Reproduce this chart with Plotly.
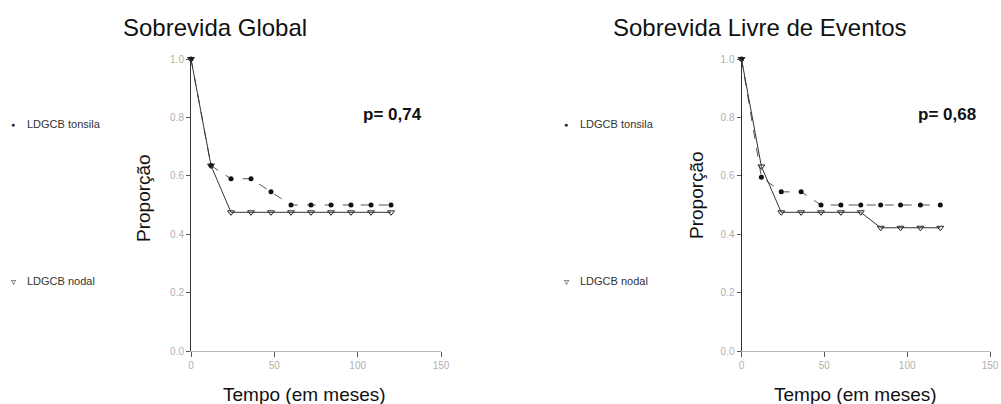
import plotly.graph_objects as go

months = [0, 12, 24, 36, 48, 60, 72, 84, 96, 108, 120]
os_tonsila = [1.0, 0.635, 0.59, 0.59, 0.545, 0.50, 0.50, 0.50, 0.50, 0.50, 0.50]
os_nodal = [1.0, 0.635, 0.475, 0.475, 0.475, 0.475, 0.475, 0.475, 0.475, 0.475, 0.475]
efs_tonsila = [1.0, 0.595, 0.545, 0.545, 0.50, 0.50, 0.50, 0.50, 0.50, 0.50, 0.50]
efs_nodal = [1.0, 0.632, 0.475, 0.475, 0.475, 0.475, 0.475, 0.422, 0.422, 0.422, 0.422]

titles = ["Sobrevida Global", "Sobrevida Livre de Eventos"]
p_values = ["p= 0,74", "p= 0,68"]
series_names = ["LDGCB tonsila", "LDGCB nodal"]
x_ticks = [0, 50, 100, 150]
y_ticks = [0.0, 0.2, 0.4, 0.6, 0.8, 1.0]

W, H = 1001, 404
FONT = "Liberation Sans, Arial, sans-serif"

def px(x):
    return x / W

def py(y):
    return 1 - y / H

fig = go.Figure()

panels = [
    dict(tons=os_tonsila, nod=os_nodal, xa="x", ya="y"),
    dict(tons=efs_tonsila, nod=efs_nodal, xa="x2", ya="y2"),
]

for p in panels:
    fig.add_trace(go.Scatter(
        x=months, y=p["tons"], mode="lines+markers", name=series_names[0],
        xaxis=p["xa"], yaxis=p["ya"], showlegend=False, cliponaxis=False,
        line=dict(color="#555555", width=1, dash="dash"),
        marker=dict(symbol="circle", size=5, color="#111111"),
    ))
    fig.add_trace(go.Scatter(
        x=months, y=p["nod"], mode="lines+markers", name=series_names[1],
        xaxis=p["xa"], yaxis=p["ya"], showlegend=False, cliponaxis=False,
        line=dict(color="#333333", width=1),
        marker=dict(symbol="triangle-down-open", size=6, color="#222222",
                    line=dict(width=1)),
    ))

y_dom = [py(351), py(59)]
axis_common_x = dict(
    range=[0, 150], tickvals=x_ticks, ticktext=[str(v) for v in x_ticks],
    showgrid=False, zeroline=False, showline=True, linecolor="#b8b8b8",
    linewidth=1, ticks="outside", ticklen=5, tickcolor="#555555",
    automargin=False,
    tickfont=dict(family=FONT, size=10, color="#b0b0b0"),
)
axis_common_y = dict(
    range=[0, 1.0], tickvals=y_ticks, ticktext=[f"{v:.1f}" for v in y_ticks],
    domain=y_dom, showgrid=False, zeroline=False, showline=True,
    linecolor="#333333", linewidth=1, ticks="outside", ticklen=4,
    automargin=False,
    tickcolor="#555555", tickfont=dict(family=FONT, size=10, color="#b0b0b0"),
)

fig.update_layout(
    template="none",
    width=W, height=H, margin=dict(l=0, r=0, t=0, b=0, autoexpand=False),
    paper_bgcolor="white", plot_bgcolor="white",
    xaxis=dict(domain=[px(191), px(441)], anchor="y", **axis_common_x),
    yaxis=dict(anchor="x", **axis_common_y),
    xaxis2=dict(domain=[px(741.5), px(990)], anchor="y2", **axis_common_x),
    yaxis2=dict(anchor="x2", **axis_common_y),
    font=dict(family=FONT),
)

ann = []
title_x = [215, 760]
paxis_x = [143, 696]
paxis_y = [198, 195]
xt_x = [304, 855]
pv_x = [392, 947]
leg_x = [13, 566]
for i in range(2):
    ann.append(dict(x=px(title_x[i]), y=py(27), xref="paper", yref="paper",
                    text=titles[i], showarrow=False, xanchor="center", yanchor="middle",
                    font=dict(family=FONT, size=24, color="#111111")))
    ann.append(dict(x=px(paxis_x[i]), y=py(paxis_y[i]), xref="paper", yref="paper",
                    text="Proporção", showarrow=False, textangle=-90,
                    xanchor="center", yanchor="middle",
                    font=dict(family=FONT, size=19, color="#111111")))
    ann.append(dict(x=px(xt_x[i]), y=py(394), xref="paper", yref="paper",
                    text="Tempo (em meses)", showarrow=False,
                    xanchor="center", yanchor="middle",
                    font=dict(family=FONT, size=19, color="#111111")))
    ann.append(dict(x=px(pv_x[i]), y=py(114), xref="paper", yref="paper",
                    text="<b>" + p_values[i] + "</b>", showarrow=False,
                    xanchor="center", yanchor="middle",
                    font=dict(family=FONT, size=17, color="#111111")))
    # legend markers
    ann.append(dict(x=px(leg_x[i]), y=py(124), xref="paper", yref="paper",
                    text="●", showarrow=False, xanchor="center", yanchor="middle",
                    font=dict(family=FONT, size=7, color="#222222")))
    ann.append(dict(x=px(leg_x[i]), y=py(281), xref="paper", yref="paper",
                    text="▿", showarrow=False, xanchor="center", yanchor="middle",
                    font=dict(family=FONT, size=10, color="#444444")))
    # legend texts
    ann.append(dict(x=px(leg_x[i] + 12), y=py(124), xref="paper", yref="paper",
                    text=series_names[0], showarrow=False,
                    xanchor="left", yanchor="middle",
                    font=dict(family=FONT, size=11, color="#333333")))
    ann.append(dict(x=px(leg_x[i] + 12), y=py(281), xref="paper", yref="paper",
                    text=series_names[1], showarrow=False,
                    xanchor="left", yanchor="middle",
                    font=dict(family=FONT, size=11, color="#333333")))
fig.update_layout(annotations=ann)

fig.write_html("out.html")
